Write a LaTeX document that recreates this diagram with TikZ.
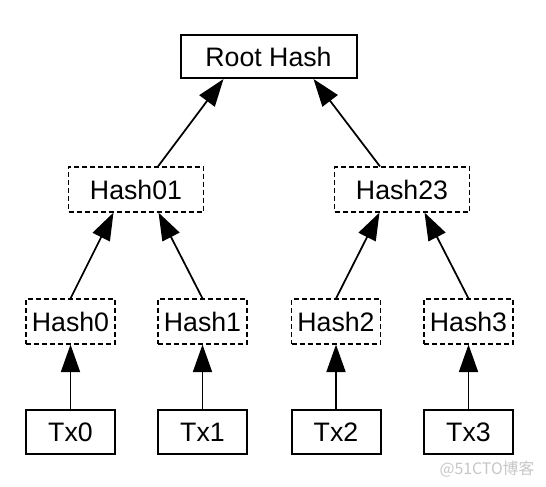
\documentclass[tikz,border=0pt]{standalone}
\usepackage{fontspec}
\setmainfont{Liberation Sans}
\newfontfamily\cjkfont{Noto Sans CJK SC}
\usetikzlibrary{arrows.meta}

\begin{document}
\begin{tikzpicture}[
    solidbox/.style={draw, line width=0.04cm, minimum width=1.78cm,
        minimum height=0.88cm, inner sep=0pt, font=\fontsize{15.2}{18}\selectfont},
    dashbox/.style={draw, line width=0.022cm, dash pattern=on 0.1cm off 0.06cm,
        minimum width=1.78cm, minimum height=0.9cm, inner sep=0pt,
        font=\fontsize{15.2}{18}\selectfont},
    hasharrow/.style={line width=0.035cm, -{Triangle[length=0.55cm,width=0.38cm]}}
]
    \useasboundingbox (0,0) rectangle (10.92,9.72);

    % Drawing root node
    \node [solidbox, minimum width=3.52cm, minimum height=0.86cm] (root) at (5.37,8.59) {Root Hash};

    % Drawing middle hash nodes
    \node [dashbox, minimum width=2.7cm] (h01) at (2.72,5.93) {Hash01};
    \node [dashbox, minimum width=2.7cm] (h23) at (8.04,5.93) {Hash23};

    % Drawing leaf hash nodes
    \node [dashbox] (h0) at (1.41,3.29) {Hash0};
    \node [dashbox] (h1) at (4.05,3.29) {Hash1};
    \node [dashbox] (h2) at (6.72,3.29) {Hash2};
    \node [dashbox] (h3) at (9.37,3.29) {Hash3};

    % Drawing transaction nodes
    \node [solidbox] (tx0) at (1.41,1.08) {Tx0};
    \node [solidbox] (tx1) at (4.05,1.08) {Tx1};
    \node [solidbox] (tx2) at (6.72,1.08) {Tx2};
    \node [solidbox] (tx3) at (9.37,1.08) {Tx3};

    % Drawing arrows Tx -> Hash
    \draw [hasharrow] (tx0) -- (h0);
    \draw [hasharrow] (tx1) -- (h1);
    \draw [hasharrow] (tx2) -- (h2);
    \draw [hasharrow] (tx3) -- (h3);

    % Drawing arrows Hash -> Hash01, Hash23
    \draw [hasharrow] (h0.north) -- ([xshift=-0.45cm]h01.south);
    \draw [hasharrow] (h1.north) -- ([xshift=0.45cm]h01.south);
    \draw [hasharrow] (h2.north) -- ([xshift=-0.45cm]h23.south);
    \draw [hasharrow] (h3.north) -- ([xshift=0.45cm]h23.south);

    % Drawing arrows to root
    \draw [hasharrow] ([xshift=0.44cm]h01.north) -- ([xshift=-0.9cm]root.south);
    \draw [hasharrow] ([xshift=-0.44cm]h23.north) -- ([xshift=0.9cm]root.south);

    % Marking watermark
    \node [text=gray!45, font=\cjkfont\fontsize{9}{11}\selectfont] (mark) at (9.74,0.34) {@51CTO博客};
\end{tikzpicture}
\end{document}
